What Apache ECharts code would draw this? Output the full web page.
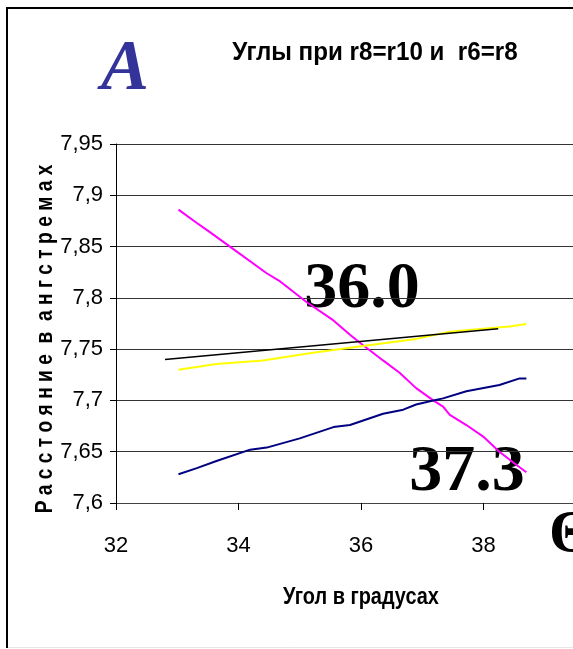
<!DOCTYPE html>
<html>
<head>
<meta charset="utf-8">
<script src="https://cdn.jsdelivr.net/npm/echarts@6/dist/echarts.min.js"></script>
<style>
  html, body { margin: 0; padding: 0; background: #fff; }
  #main { width: 573px; height: 649px; }
</style>
</head>
<body>
<div id="main"></div>
<script>
// углы (градусы) и расстояния (ангстремы)
const magentaX = [33.02, 33.32, 33.51, 33.86, 34.46, 34.68, 35.11, 35.55, 35.82, 36.03, 36.36, 36.63, 36.90, 37.18, 37.34, 37.45, 37.72, 37.99, 38.26, 38.54, 38.70]
const magentaY = [7.886, 7.873, 7.865, 7.850, 7.824, 7.816, 7.796, 7.778, 7.764, 7.754, 7.739, 7.727, 7.712, 7.700, 7.694, 7.686, 7.676, 7.665, 7.650, 7.637, 7.630]

const yellowX = [33.02, 33.64, 34.40, 35.16, 36.03, 36.90, 37.45, 37.99, 38.43, 38.70]
const yellowY = [7.730, 7.7355, 7.739, 7.746, 7.753, 7.760, 7.767, 7.770, 7.772, 7.7745]

const blackX = [32.80, 38.24]
const blackY = [7.740, 7.770]

const navyX = [33.02, 33.32, 33.64, 34.19, 34.46, 35.00, 35.55, 35.82, 36.36, 36.69, 36.90, 37.18, 37.34, 37.72, 38.26, 38.59, 38.70]
const navyY = [7.628, 7.634, 7.641, 7.652, 7.654, 7.663, 7.674, 7.676, 7.687, 7.691, 7.696, 7.700, 7.702, 7.709, 7.715, 7.7215, 7.7215]

const titleText = 'Углы при r8=r10 и  r6=r8'
const xName = 'Угол в градусах'
const yName = 'Р а с с т о я н и е  в  а н г с т р е м а х'
const marks = ['36.0', '37.3']

function pairs (xs, ys) {
  return xs.map((x, i) => [x, ys[i]])
}

const sans = '"Liberation Sans", Arial, sans-serif'
const serif = '"Liberation Serif", "Times New Roman", serif'

const myChart = echarts.init(document.getElementById('main'))
const option = {
  animation: false,
  backgroundColor: '#fff',
  grid: { left: 116, top: 144, right: -33, bottom: 146, outerBoundsMode: 'none' },
  xAxis: {
    type: 'value',
    min: 32,
    max: 40,
    interval: 2,
    axisLine: { lineStyle: { color: '#444', width: 1 } },
    axisTick: { length: 7, lineStyle: { color: '#000' } },
    axisLabel: { fontFamily: sans, fontSize: 22, color: '#000', margin: 32, showMaxLabel: false },
    splitLine: { show: false }
  },
  yAxis: {
    type: 'value',
    min: 7.6,
    max: 7.95,
    interval: 0.05,
    axisLine: { show: true, lineStyle: { color: '#000', width: 1 } },
    axisTick: { show: true, length: 6, lineStyle: { color: '#000' } },
    axisLabel: {
      fontFamily: sans,
      fontSize: 22,
      color: '#000',
      margin: 13,
      formatter: v => String(parseFloat(v.toFixed(2))).replace('.', ',')
    },
    splitLine: { lineStyle: { color: '#333', width: 1 } }
  },
  series: [
    { type: 'line', data: pairs(magentaX, magentaY), showSymbol: false, lineStyle: { color: '#ff00ff', width: 2 } },
    { type: 'line', data: pairs(yellowX, yellowY), showSymbol: false, lineStyle: { color: '#ffff00', width: 2 } },
    { type: 'line', data: pairs(blackX, blackY), showSymbol: false, lineStyle: { color: '#000', width: 1.5 } },
    { type: 'line', data: pairs(navyX, navyY), showSymbol: false, lineStyle: { color: '#000080', width: 2 } }
  ],
  graphic: [
    // рамка
    { type: 'line', shape: { x1: 7, y1: 7, x2: 7, y2: 648 }, style: { stroke: '#000', lineWidth: 2 } },
    { type: 'line', shape: { x1: 6, y1: 8, x2: 573, y2: 8 }, style: { stroke: '#000', lineWidth: 2 } },
    { type: 'line', shape: { x1: 8, y1: 647.5, x2: 573, y2: 647.5 }, style: { stroke: '#e6e6e6', lineWidth: 1 } },
    {
      type: 'text', x: 375, y: 53, scaleX: 0.93,
      style: { text: titleText, fontFamily: sans, fontWeight: 'bold', fontSize: 26, fill: '#000', textAlign: 'center', textVerticalAlign: 'middle' }
    },
    {
      type: 'text', x: 361, y: 597, scaleX: 0.83,
      style: { text: xName, fontFamily: sans, fontWeight: 'bold', fontSize: 24, fill: '#000', textAlign: 'center', textVerticalAlign: 'middle' }
    },
    {
      type: 'text', x: 125, y: 70,
      style: { text: 'A', fontFamily: serif, fontStyle: 'italic', fontWeight: 'bold', fontSize: 72, fill: '#333399', textAlign: 'center', textVerticalAlign: 'middle' }
    },
    {
      type: 'text', x: 45, y: 339, rotation: Math.PI / 2, scaleX: 0.8,
      style: { text: yName, fontFamily: sans, fontWeight: 'bold', fontSize: 24, fill: '#000', textAlign: 'center', textVerticalAlign: 'middle' }
    },
    {
      type: 'text', x: 362, y: 290,
      style: { text: marks[0], fontFamily: serif, fontWeight: 'bold', fontSize: 66, fill: '#000', textAlign: 'center', textVerticalAlign: 'middle' }
    },
    {
      type: 'text', x: 467, y: 473,
      style: { text: marks[1], fontFamily: serif, fontWeight: 'bold', fontSize: 66, fill: '#000', textAlign: 'center', textVerticalAlign: 'middle' }
    },
    {
      type: 'text', x: 549, y: 535,
      style: { text: 'Θ', fontFamily: serif, fontWeight: 'bold', fontSize: 60, fill: '#000', textAlign: 'left', textVerticalAlign: 'middle' }
    }
  ]
}
myChart.setOption(option)
</script>
</body>
</html>
